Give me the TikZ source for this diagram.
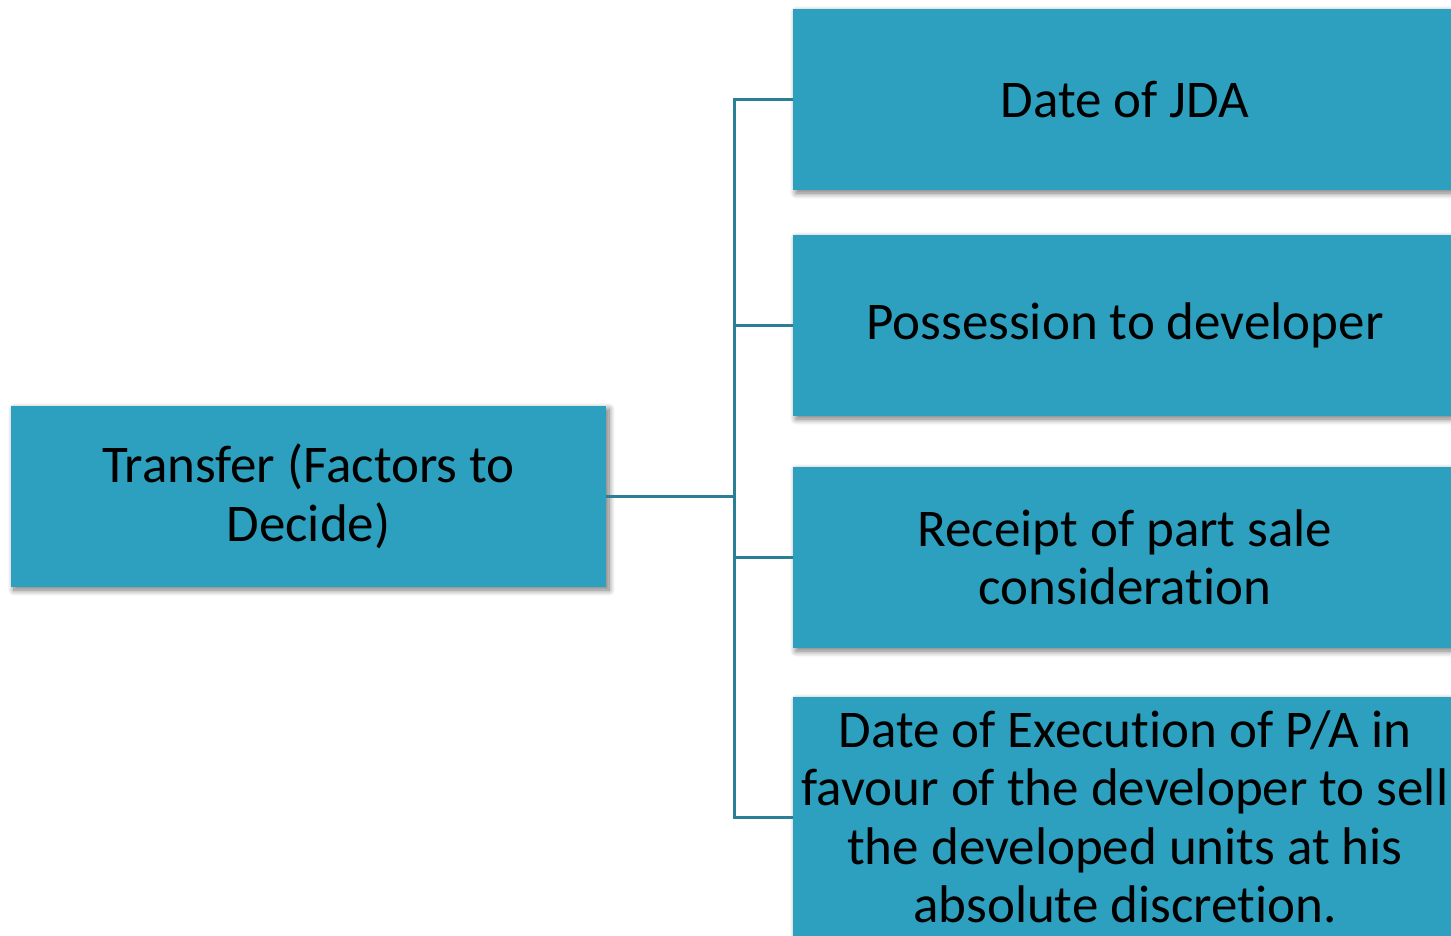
\documentclass[tikz,border=0pt]{standalone}
\usepackage{fontspec}
\setmainfont[Ligatures=NoCommon]{Carlito}
\usetikzlibrary{shadows.blur}
\definecolor{boxteal}{HTML}{2CA0BE}
\definecolor{linkteal}{HTML}{2A7F96}
\begin{document}
\begin{tikzpicture}[x=1pt,y=-1pt,
  box/.style={fill=boxteal, draw=none, minimum height=181pt, align=center,
    inner sep=4pt, text=black,
    font=\fontsize{53}{58.5}\selectfont,
    blur shadow={shadow xshift=3pt, shadow yshift=-3pt, shadow blur radius=6pt, shadow blur steps=10, shadow blur extra rounding=0pt, shadow opacity=55}},
  link/.style={draw=linkteal, line width=3pt}]
  \useasboundingbox (0,0) rectangle (1451,936);
  % root box
  \node[box, minimum width=595pt] (L) at (308.5,496.5) {Transfer (Factors to\\Decide)};
  % factor boxes (they run on past the right edge)
  \node[box, minimum width=664pt] (R1) at (1125,99.5) {Date of JDA};
  \node[box, minimum width=664pt] (R2) at (1125,325.5) {Possession to developer};
  \node[box, minimum width=664pt] (R3) at (1125,557.5) {Receipt of part sale\\consideration};
  \node[box, minimum width=664pt, minimum height=240pt] (R4) at (1125,817) {Date of Execution of P/A in\\favour of the developer to sell\\the developed units at his\\absolute discretion.};
  % connectors
  \coordinate (J) at (734,496.5);
  \draw[link] (L.east) -- (J);
  \draw[link] (J) |- (R1.west);
  \draw[link] (J) |- (R2.west);
  \draw[link] (J) |- (R3.west);
  \draw[link] (J) |- (R4.west);
\end{tikzpicture}
\end{document}
